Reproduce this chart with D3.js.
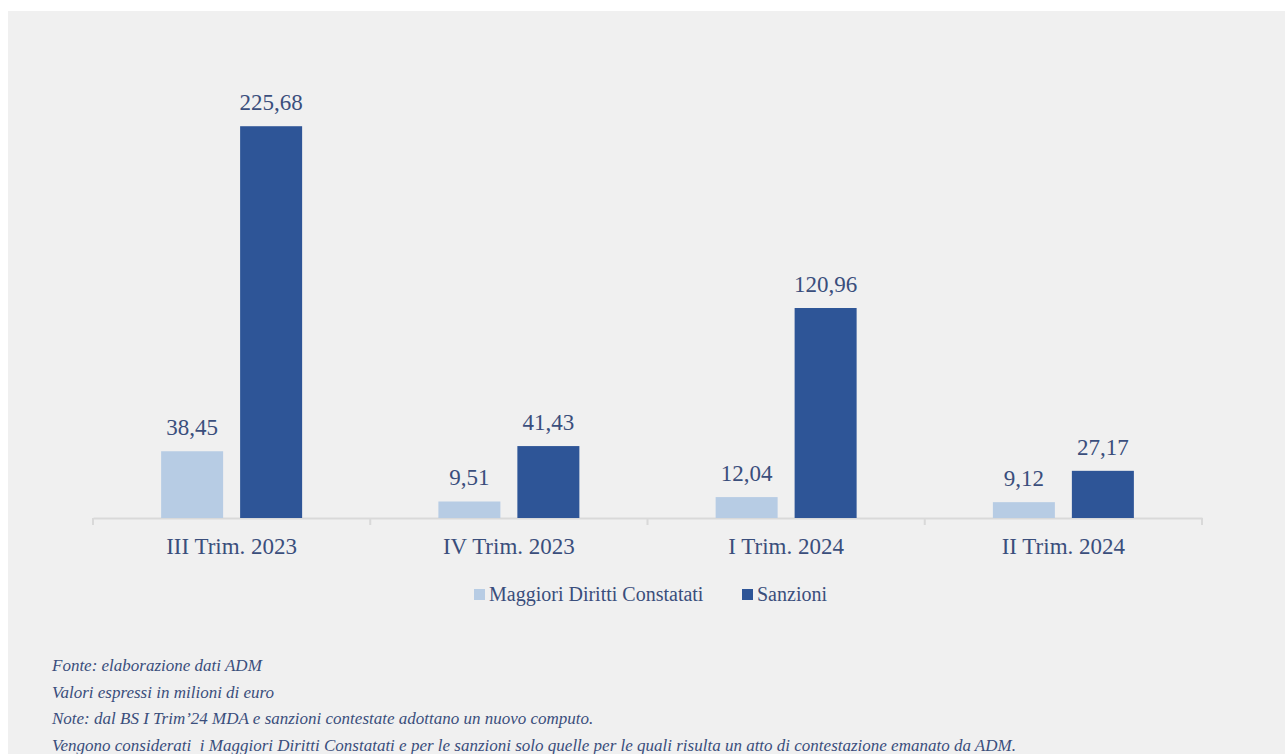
<!DOCTYPE html>
<html>
<head>
<meta charset="utf-8">
<script src="https://cdn.jsdelivr.net/npm/d3@7"></script>
<style>
  body { margin: 0; background: #ffffff; }
  svg text { font-family: "Liberation Serif", "DejaVu Serif", serif; }
</style>
</head>
<body>
<div id="chart"></div>
<script>
// dati del grafico
const categorie = ["III Trim. 2023", "IV Trim. 2023", "I Trim. 2024", "II Trim. 2024"];
const serie = ["Maggiori Diritti Constatati", "Sanzioni"];
const mdc = [38.45, 9.51, 12.04, 9.12];
const sanzioni = [225.68, 41.43, 120.96, 27.17];
const note = [
    "Fonte: elaborazione dati ADM",
    "Valori espressi in milioni di euro",
    "Note: dal BS I Trim’24 MDA e sanzioni contestate adottano un nuovo computo.",
    "Vengono considerati  i Maggiori Diritti Constatati e per le sanzioni solo quelle per le quali risulta un atto di contestazione emanato da ADM."
];

const colori = ["#b7cce4", "#2e5597"];
const coloreTesto = "#3a4e7c";

let W = 1285, H = 754;
let margin = { top: 84, right: 83, bottom: 236, left: 93 };
let width = W - margin.left - margin.right;
let height = H - margin.top - margin.bottom;

let root = d3.select("#chart").append("svg")
    .attr("width", W)
    .attr("height", H);

// pannello grigio
root.append("rect")
    .attr("x", 8).attr("y", 11)
    .attr("width", W - 8).attr("height", H - 11)
    .attr("fill", "#f0f0f0");

let svg = root.append("g")
    .attr("transform", `translate(${margin.left},${margin.top})`);

let x0 = d3.scaleBand()
    .domain(categorie)
    .range([0, width]);

let x1 = d3.scaleBand()
    .domain(serie)
    .range([0, 141])
    .paddingInner(0.215);

let y = d3.scaleLinear()
    .domain([0, 250])
    .range([height, 0]);

let dati = categorie.map((c, i) => ({
    cat: c,
    valori: [
        { s: serie[0], v: mdc[i] },
        { s: serie[1], v: sanzioni[i] }
    ]
}));

// asse X
let asse = svg.append("g")
    .attr("transform", `translate(0, ${height})`)
    .call(d3.axisBottom(x0).tickSize(0).tickPadding(20));
asse.select(".domain").attr("stroke", "#d9d9d9").attr("stroke-width", 2);
asse.selectAll("text")
    .style("font-size", "23px")
    .attr("fill", coloreTesto);

// tacche tra le categorie
svg.append("g")
    .selectAll("line")
    .data(d3.range(categorie.length + 1))
    .enter()
    .append("line")
    .attr("x1", i => i * x0.bandwidth())
    .attr("x2", i => i * x0.bandwidth())
    .attr("y1", height)
    .attr("y2", height + 7)
    .attr("stroke", "#d9d9d9")
    .attr("stroke-width", 2);

// barre
let gruppi = svg.selectAll(".gruppo")
    .data(dati)
    .enter()
    .append("g")
    .attr("class", "gruppo")
    .attr("transform", d => `translate(${x0(d.cat) + (x0.bandwidth() - 141) / 2},0)`);

gruppi.selectAll("rect")
    .data(d => d.valori)
    .enter()
    .append("rect")
    .attr("x", d => x1(d.s))
    .attr("y", d => y(d.v))
    .attr("width", x1.bandwidth())
    .attr("height", d => height - y(d.v))
    .attr("fill", (d, i) => colori[i]);

// etichette valori
gruppi.selectAll(".label")
    .data(d => d.valori)
    .enter()
    .append("text")
    .attr("class", "label")
    .attr("x", d => x1(d.s) + x1.bandwidth() / 2)
    .attr("y", d => y(d.v) - 16)
    .attr("text-anchor", "middle")
    .style("font-size", "23px")
    .attr("fill", coloreTesto)
    .text(d => d.v.toFixed(2).replace(".", ","));

// legenda
let legenda = root.append("g").attr("transform", "translate(474, 589)");
let posLeg = [0, 268];
serie.forEach((s, i) => {
    let g = legenda.append("g").attr("transform", `translate(${posLeg[i]},0)`);
    g.append("rect")
        .attr("width", 11).attr("height", 11)
        .attr("fill", colori[i]);
    g.append("text")
        .attr("x", 15)
        .attr("y", 12)
        .style("font-size", "20px")
        .attr("fill", coloreTesto)
        .text(s);
});

// note a piè di pagina
root.append("g")
    .selectAll("text")
    .data(note)
    .enter()
    .append("text")
    .attr("x", 52)
    .attr("y", (d, i) => 671 + i * 26.5)
    .style("font-size", "17px")
    .style("font-style", "italic")
    .style("white-space", "pre")
    .attr("fill", coloreTesto)
    .text(d => d);
</script>
</body>
</html>
